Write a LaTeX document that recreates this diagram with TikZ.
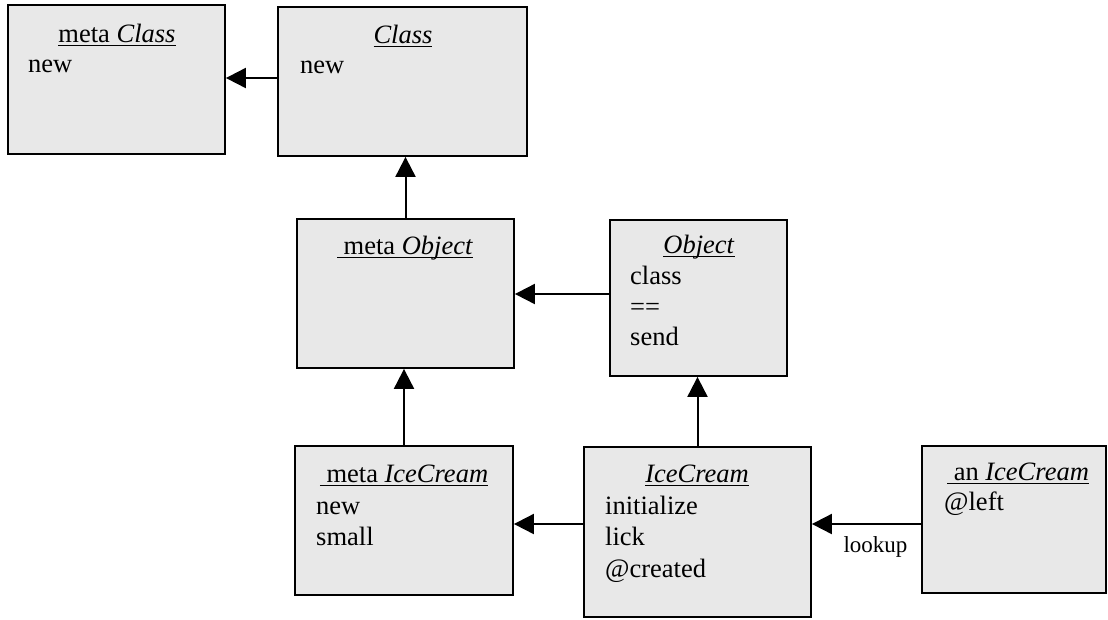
\documentclass[tikz,border=0pt]{standalone}
\usepackage{fontspec}
\setmainfont{Liberation Serif}
\usetikzlibrary{arrows.meta}
\definecolor{boxgray}{RGB}{232,232,232}
% underline at a fixed depth below the baseline
\newcommand\ulname[1]{\setbox0\hbox{#1}\rlap{\rule[-4pt]{\wd0}{1.3pt}}\box0}
\tikzset{
  umlbox/.style={draw=black, fill=boxgray, line width=1.8pt, rectangle, inner sep=0pt},
  title/.style={anchor=base, inner sep=0pt, font=\fontsize{26.5}{31}\selectfont},
  member/.style={anchor=base west, inner sep=0pt, font=\fontsize{26.5}{31}\selectfont},
  link/.style={line width=2pt, -{Triangle[length=20pt,width=20pt]}},
  lbl/.style={anchor=base, inner sep=0pt, font=\fontsize{23}{27}\selectfont}
}
\begin{document}
\begin{tikzpicture}[x=1pt,y=-1pt]
\useasboundingbox (0,0) rectangle (1108,619);

% class boxes
\node[umlbox, minimum width=217pt, minimum height=149pt] (mc) at (116.5,79.5) {};
\node[umlbox, minimum width=249pt, minimum height=149pt] (cl) at (402.5,81.5) {};
\node[umlbox, minimum width=217pt, minimum height=149pt] (mo) at (405.5,293.5) {};
\node[umlbox, minimum width=177pt, minimum height=156pt] (ob) at (698.5,298) {};
\node[umlbox, minimum width=218pt, minimum height=149pt] (mi) at (404,520.5) {};
\node[umlbox, minimum width=227pt, minimum height=170pt] (ic) at (697.5,532) {};
\node[umlbox, minimum width=184pt, minimum height=147pt] (ai) at (1014,519.5) {};

% titles
\node[title] (mct) at (117,42) {\ulname{meta \textit{Class}}};
\node[title] (clt) at (403,43) {\ulname{\textit{Class}}};
\node[title] (mot) at (405,254) {\ulname{\ meta \textit{Object}}};
\node[title] (obt) at (699,253) {\ulname{\textit{Object}}};
\node[title] (mit) at (404,482) {\ulname{\ meta \textit{IceCream}}};
\node[title] (ict) at (697,482) {\ulname{\textit{IceCream}}};
\node[title] (ait) at (1018,480) {\ulname{\ an \textit{IceCream}}};

% members
\node[member] (mc1) at (28,72) {new};
\node[member] (cl1) at (300,73) {new};
\node[member] (ob1) at (630,284) {class};
\node[member] (ob2) at (630,315) {==};
\node[member] (ob3) at (630,345) {send};
\node[member] (mi1) at (316,514) {new};
\node[member] (mi2) at (316,545) {small};
\node[member] (ic1) at (605,514) {initialize};
\node[member] (ic2) at (605,545) {lick};
\node[member] (ic3) at (605,577) {@created};
\node[member] (ai1) at (944,510) {@left};

% connector rows
\coordinate (row1) at (0,78);
\coordinate (row2) at (0,294);
\coordinate (row3) at (0,524);

% connectors
\draw[link] (cl.west |- row1) -- (mc.east |- row1);
\draw[link] (mo.north) -- (mo.north |- cl.south);
\draw[link] (ob.west |- row2) -- (mo.east |- row2);
\draw[link] (mi.north) -- (mi.north |- mo.south);
\draw[link] (ic.north) -- (ic.north |- ob.south);
\draw[link] (ic.west |- row3) -- (mi.east |- row3);
\draw[link] (ai.west |- row3) -- (ic.east |- row3);
\node[lbl] (lookup) at (875.5,552) {lookup};
\end{tikzpicture}
\end{document}
